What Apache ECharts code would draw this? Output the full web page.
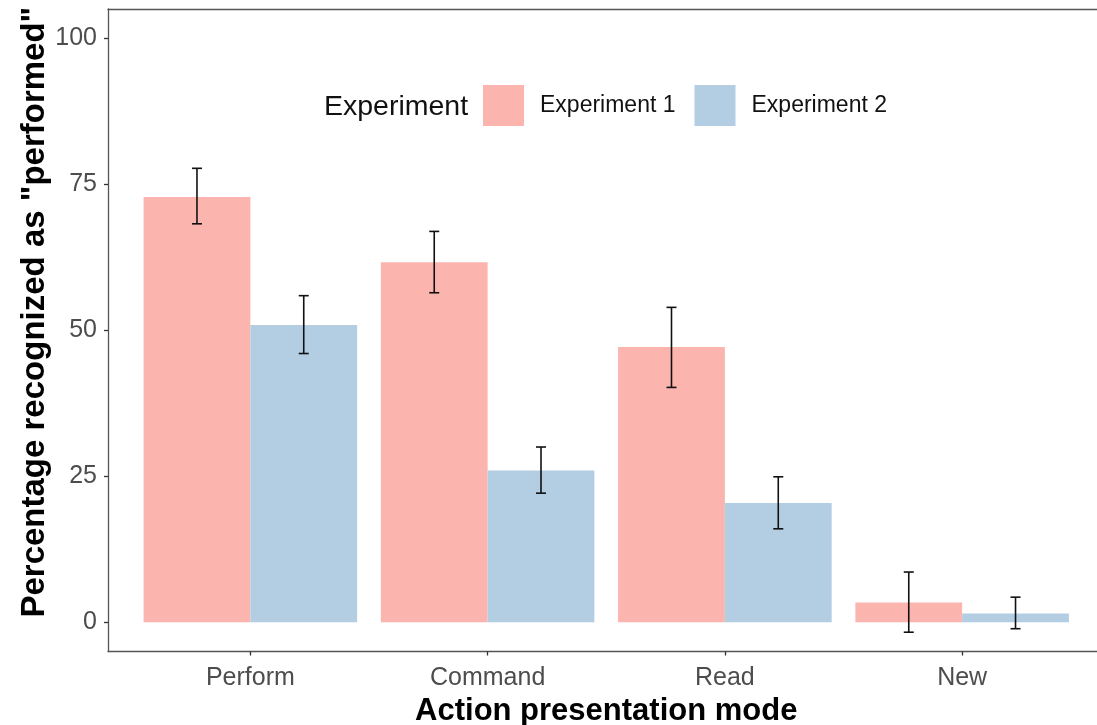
<!DOCTYPE html>
<html>
<head>
<meta charset="utf-8">
<script src="https://cdn.jsdelivr.net/npm/echarts@6/dist/echarts.min.js"></script>
<style>html,body{margin:0;padding:0;background:#fff;}#chart{width:1097px;height:725px;}</style>
</head>
<body>
<div id="chart"></div>
<script>
var categories = ['Perform', 'Command', 'Read', 'New'];
var seriesNames = ['Experiment 1', 'Experiment 2'];
var exp1Values = [72.8, 61.6, 47.1, 3.4];
var exp1Low = [68.2, 56.4, 40.2, -1.7];
var exp1High = [77.7, 66.9, 53.9, 8.6];
var exp2Values = [50.9, 26.0, 20.4, 1.5];
var exp2Low = [46.0, 22.1, 16.0, -1.1];
var exp2High = [55.9, 30.0, 24.9, 4.3];
var yTicks = [0, 25, 50, 75, 100];
var colors = ['#FBB4AE', '#B3CDE3'];

var FONT = '"Liberation Sans", Arial, Helvetica, sans-serif';
var dodge = 0.225, halfW = 0.225;
var X_MIN = 0.4, X_MAX = 4.6;
var FRAME = { color: '#555', width: 1.3 };

function barRender(offset) {
  return function (params, api) {
    var c = api.value(0) + 1 + offset;
    var v = api.value(1);
    var p1 = api.coord([c - halfW, v]);
    var p2 = api.coord([c + halfW, 0]);
    return {
      type: 'rect',
      shape: { x: p1[0], y: p1[1], width: p2[0] - p1[0], height: p2[1] - p1[1] },
      style: { fill: api.visual('color') }
    };
  };
}
function errRender(offset) {
  return function (params, api) {
    var c = api.value(0) + 1 + offset;
    var lo = api.coord([c, api.value(1)]);
    var hi = api.coord([c, api.value(2)]);
    var cap = 5;
    var st = { stroke: '#111', lineWidth: 1.6 };
    return {
      type: 'group',
      children: [
        { type: 'line', shape: { x1: lo[0], y1: lo[1], x2: hi[0], y2: hi[1] }, style: st },
        { type: 'line', shape: { x1: lo[0] - cap, y1: lo[1], x2: lo[0] + cap, y2: lo[1] }, style: st },
        { type: 'line', shape: { x1: hi[0] - cap, y1: hi[1], x2: hi[0] + cap, y2: hi[1] }, style: st }
      ]
    };
  };
}
function mk(vals) { return vals.map(function (v, i) { return [i, v]; }); }
function mkErr(lo, hi) { return lo.map(function (v, i) { return [i, v, hi[i]]; }); }

var chart = echarts.init(document.getElementById('chart'), null, { renderer: 'canvas' });
chart.setOption({
  animation: false,
  backgroundColor: '#fff',
  textStyle: { fontFamily: FONT },
  title: {
    text: 'Experiment', left: 319, top: 88,
    textStyle: { fontSize: 28.5, fontWeight: 'normal', color: '#111', fontFamily: FONT }
  },
  legend: {
    data: seriesNames, left: 483, top: 85, padding: 0, itemWidth: 41, itemHeight: 41, itemGap: 19,
    icon: 'rect', orient: 'horizontal',
    textStyle: { fontSize: 23, color: '#111', fontFamily: FONT, padding: [0, 0, 0, 11] }
  },
  grid: {
    left: 108, top: 8.8, width: 996.5, bottom: 73.5,
    show: false, containLabel: false, outerBoundsMode: 'none'
  },
  xAxis: [{
    type: 'value', min: X_MIN, max: X_MAX, position: 'bottom',
    name: 'Action presentation mode', nameLocation: 'middle', nameGap: 44, nameMoveOverlap: false,
    nameTextStyle: { fontSize: 31, fontWeight: 'bold', color: '#000', fontFamily: FONT },
    axisLine: { show: true, onZero: false, lineStyle: FRAME },
    splitLine: { show: false },
    axisTick: { show: true, length: 4, customValues: [1, 2, 3, 4], lineStyle: { color: '#333', width: 1.3 } },
    axisLabel: {
      customValues: [1, 2, 3, 4], fontSize: 25, color: '#4d4d4d', margin: 14, fontFamily: FONT,
      formatter: function (v) { return categories[Math.round(v) - 1]; }
    }
  }, {
    type: 'value', min: X_MIN, max: X_MAX, position: 'top',
    axisLine: { show: true, onZero: false, lineStyle: FRAME },
    axisTick: { show: false }, axisLabel: { show: false }, splitLine: { show: false }
  }],
  yAxis: {
    type: 'value', min: -5, max: 105,
    name: 'Percentage recognized as "performed"', nameLocation: 'middle', nameGap: 57, nameMoveOverlap: false,
    nameTextStyle: { fontSize: 33, fontWeight: 'bold', color: '#000', fontFamily: FONT, padding: [0, 0, 0, 36] },
    axisLine: { show: true, onZero: false, lineStyle: FRAME },
    splitLine: { show: false },
    axisTick: { show: true, length: 4, customValues: yTicks, lineStyle: { color: '#333', width: 1.3 } },
    axisLabel: { customValues: yTicks, fontSize: 25, color: '#4d4d4d', margin: 11, fontFamily: FONT }
  },
  series: [
    { name: seriesNames[0], type: 'custom', xAxisIndex: 0, itemStyle: { color: colors[0] }, renderItem: barRender(-dodge), data: mk(exp1Values), encode: { x: 0, y: 1 }, z: 2 },
    { name: seriesNames[1], type: 'custom', xAxisIndex: 0, itemStyle: { color: colors[1] }, renderItem: barRender(dodge), data: mk(exp2Values), encode: { x: 0, y: 1 }, z: 2 },
    { name: 'err1', type: 'custom', xAxisIndex: 0, renderItem: errRender(-dodge), data: mkErr(exp1Low, exp1High), encode: { x: 0, y: [1, 2] }, z: 3 },
    { name: 'err2', type: 'custom', xAxisIndex: 0, renderItem: errRender(dodge), data: mkErr(exp2Low, exp2High), encode: { x: 0, y: [1, 2] }, z: 3 }
  ]
});
</script>
</body>
</html>
